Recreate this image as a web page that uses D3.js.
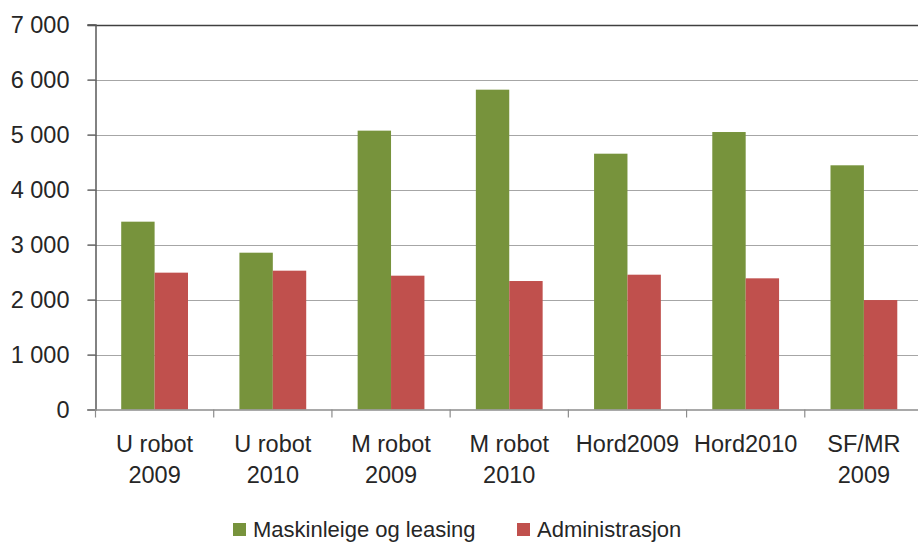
<!DOCTYPE html>
<html><head><meta charset="utf-8">
<script src="https://cdn.jsdelivr.net/npm/d3@7"></script>
<style>body{margin:0;background:#fff;}svg{display:block;}</style>
</head><body>
<svg id="c" width="918" height="544"></svg>
<script>
const categories = [["U robot","2009"],["U robot","2010"],["M robot","2009"],["M robot","2010"],["Hord2009"],["Hord2010"],["SF/MR","2009"]];
const seriesNames = ["Maskinleige og leasing","Administrasjon"];
const maskinleige = [3415, 2851, 5070, 5815, 4651, 5045, 4440];
const administrasjon = [2488, 2524, 2433, 2336, 2451, 2385, 1990];
const yTicks = [0,1000,2000,3000,4000,5000,6000,7000];
const colors = ["#77933C","#C0504D"];

(function(){
const svg = d3.select("#c");
const font = "Liberation Sans, Arial, sans-serif";
const pLeft = 95.5, pRight = 923, pTop = 24.5, pBottom = 409.5;
const x0 = d3.scaleBand().domain(d3.range(categories.length)).range([pLeft, pRight]).padding(0);
const x1 = d3.scaleBand().domain([0,1]).range([0, x0.bandwidth()]).paddingInner(0).paddingOuter(0.77);
const y = d3.scaleLinear().domain([0,7000]).range([pBottom, pTop]);
const fmt = v => d3.format(",")(v).replace(/,/g, " ");

// gridlines
svg.append("g").selectAll("line").data(yTicks.filter(t=>t>0)).join("line")
  .attr("x1", pLeft-8).attr("x2", pRight)
  .attr("y1", d=>Math.round(y(d))+0.5).attr("y2", d=>Math.round(y(d))+0.5)
  .attr("stroke", d=> d===7000 ? "#404040" : "#A6A6A6").attr("stroke-width", d=> d===7000?1.5:1.2);

// bars
const data = categories.map((c,i)=>[maskinleige[i], administrasjon[i]]);
const g = svg.append("g");
data.forEach((vals,i)=>{
  g.selectAll(null).data(vals).join("rect")
    .attr("x",(d,j)=>x0(i)+x1(j)).attr("width",x1.bandwidth())
    .attr("y",d=>y(d)).attr("height",d=>pBottom-y(d))
    .attr("fill",(d,j)=>colors[j]);
});

// y axis
const yAxis = d3.axisLeft(y).tickValues(yTicks).tickFormat(fmt).tickSize(8).tickPadding(18);
const ya = svg.append("g").attr("transform",`translate(${pLeft},0)`).call(yAxis);
ya.select(".domain").attr("stroke","#595959").attr("stroke-width",1.5);
ya.selectAll(".tick line").attr("stroke","#595959").attr("stroke-width",1.2);
ya.selectAll("text").attr("font-family",font).attr("font-size",23.5).attr("fill","#262626").attr("dy","0.35em");

// x axis
svg.append("line").attr("x1",pLeft-8).attr("x2",pRight).attr("y1",pBottom+0.5).attr("y2",pBottom+0.5).attr("stroke","#8C8C8C").attr("stroke-width",1.5);
svg.append("g").selectAll("line").data(d3.range(categories.length+1)).join("line")
  .attr("x1",d=>pLeft+d*x0.step()).attr("x2",d=>pLeft+d*x0.step())
  .attr("y1",pBottom).attr("y2",pBottom+8).attr("stroke","#8C8C8C").attr("stroke-width",1.2);
const xl = svg.append("g");
categories.forEach((c,i)=>{
  const t = xl.append("text").attr("text-anchor","middle").attr("font-family",font).attr("font-size",23.5).attr("fill","#262626");
  c.forEach((line,k)=>t.append("tspan").attr("x",x0(i)+x0.bandwidth()/2).attr("y",452+k*31).text(line));
});

// legend
const legX = [233, 517];
seriesNames.forEach((n,i)=>{
  svg.append("rect").attr("x",legX[i]).attr("y",523).attr("width",13).attr("height",13).attr("fill",colors[i]);
  svg.append("text").attr("x",legX[i]+20).attr("y",537).attr("font-family",font).attr("font-size",22).attr("fill","#262626").text(n);
});
})();
</script>
</body></html>
